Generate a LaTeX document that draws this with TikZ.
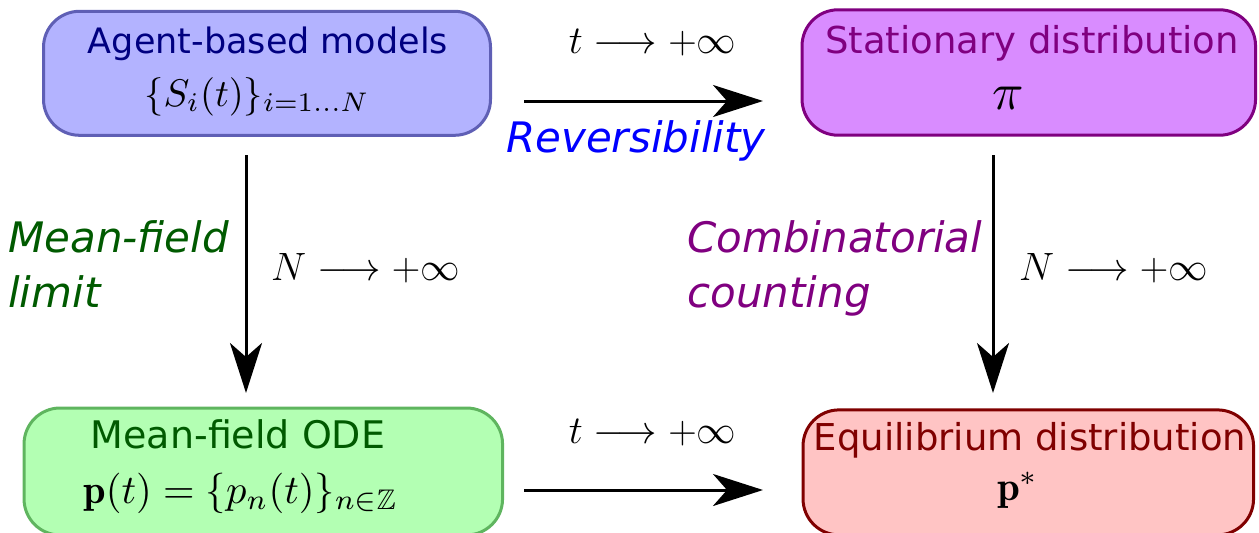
\RequirePackage{fix-cm}
\documentclass[tikz,border=0pt]{standalone}
\usepackage{amssymb}
\usepackage{graphicx}
\usepackage{fontspec}
\newfontfamily\dejavu{DejaVu Sans}
\usetikzlibrary{arrows.meta}
\definecolor{bfill}{HTML}{B3B3FF}
\definecolor{bdraw}{HTML}{5F5FB5}
\definecolor{btext}{HTML}{000080}
\definecolor{pfill}{HTML}{D98CFF}
\definecolor{pdraw}{HTML}{800080}
\definecolor{gfill}{HTML}{B3FFB3}
\definecolor{gdraw}{HTML}{5FB55F}
\definecolor{gtext}{HTML}{005A00}
\definecolor{rfill}{HTML}{FFC4C4}
\definecolor{rdraw}{HTML}{800000}
\tikzset{
  box/.style={draw, line width=3pt, rounded corners=36pt, inner sep=0pt},
  title/.style={font=\dejavu\fontsize{37}{44}\selectfont, anchor=base, inner sep=0pt},
  lab/.style={font=\dejavu\itshape\fontsize{42}{50}\selectfont, inner sep=0pt},
  mlab/.style={font=\fontsize{39.5}{46}\selectfont, anchor=base, inner sep=0pt},
  formula/.style={anchor=base, inner sep=0pt, font=\normalsize},
  conn/.style={line width=3pt, -{Stealth[length=50pt,width=32pt,inset=14pt]}}
}
\begin{document}
\begin{tikzpicture}[x=1pt,y=-1pt]
\useasboundingbox (0,0) rectangle (1259,533);
% boxes
\node[box, fill=bfill, draw=bdraw, minimum width=447pt, minimum height=124pt] (abm) at (267,73.3) {};
\node[box, fill=pfill, draw=pdraw, minimum width=453.5pt, minimum height=125.4pt] (sta) at (1028.8,72.5) {};
\node[box, fill=gfill, draw=gdraw, minimum width=478.5pt, minimum height=127pt] (ode) at (263.3,471.5) {};
\node[box, fill=rfill, draw=rdraw, minimum width=450.5pt, minimum height=125pt] (equ) at (1028.3,472.4) {};
% box texts
\node[title, text=btext, font=\dejavu\fontsize{35}{42}\selectfont] (abmT) at (268,53) {Agent-based models};
\node[formula] (abmM) at (257,106) {\scalebox{3.85}{$\{S_i(t)\}_{i=1\ldots N}$}};
\node[title, text=pdraw] (staT) at (1032,53) {Stationary distribution};
\node[formula] (staM) at (1008.5,109) {\scalebox{5.2}{$\pi$}};
\node[title, text=gtext, font=\dejavu\fontsize{38}{45}\selectfont] (odeT) at (238,448) {Mean-field ODE};
\node[formula] (odeM) at (240.5,503) {\scalebox{4.05}{$\mathbf{p}(t)=\{p_n(t)\}_{n\in\mathbb{Z}}$}};
\node[title, text=rdraw] (equT) at (1030,450) {Equilibrium distribution};
\node[formula] (equM) at (1018,500) {\scalebox{4.1}{$\mathbf{p}^*$}};
% connector ends
\coordinate (h1s) at (524,101);
\coordinate (h1e) at (763,101);
\coordinate (h2s) at (524,490);
\coordinate (h2e) at (763,490);
\coordinate (v1s) at (246,155);
\coordinate (v1e) at (246,393);
\coordinate (v2s) at (993,155);
\coordinate (v2e) at (993,393);
\draw[conn] (h1s) -- (h1e);
\draw[conn] (h2s) -- (h2e);
\draw[conn] (v1s) -- (v1e);
\draw[conn] (v2s) -- (v2e);
% labels
\node[mlab] (tl1) at (652.5,53) {$t\longrightarrow+\infty$};
\node[mlab] (tl2) at (652.5,443) {$t\longrightarrow+\infty$};
\node[mlab] (nl1) at (365.5,280) {$N\longrightarrow+\infty$};
\node[mlab] (nl2) at (1113.5,280) {$N\longrightarrow+\infty$};
\node[lab, anchor=base, text=blue] (rev) at (636,152) {Reversibility};
\node[lab, anchor=base west, text=gtext] (mf1) at (8,252) {Mean-field};
\node[lab, anchor=base west, text=gtext] (mf2) at (8,307) {limit};
\node[lab, anchor=base west, text=pdraw] (cc1) at (687,252) {Combinatorial};
\node[lab, anchor=base west, text=pdraw] (cc2) at (687,307) {counting};
\end{tikzpicture}
\end{document}
